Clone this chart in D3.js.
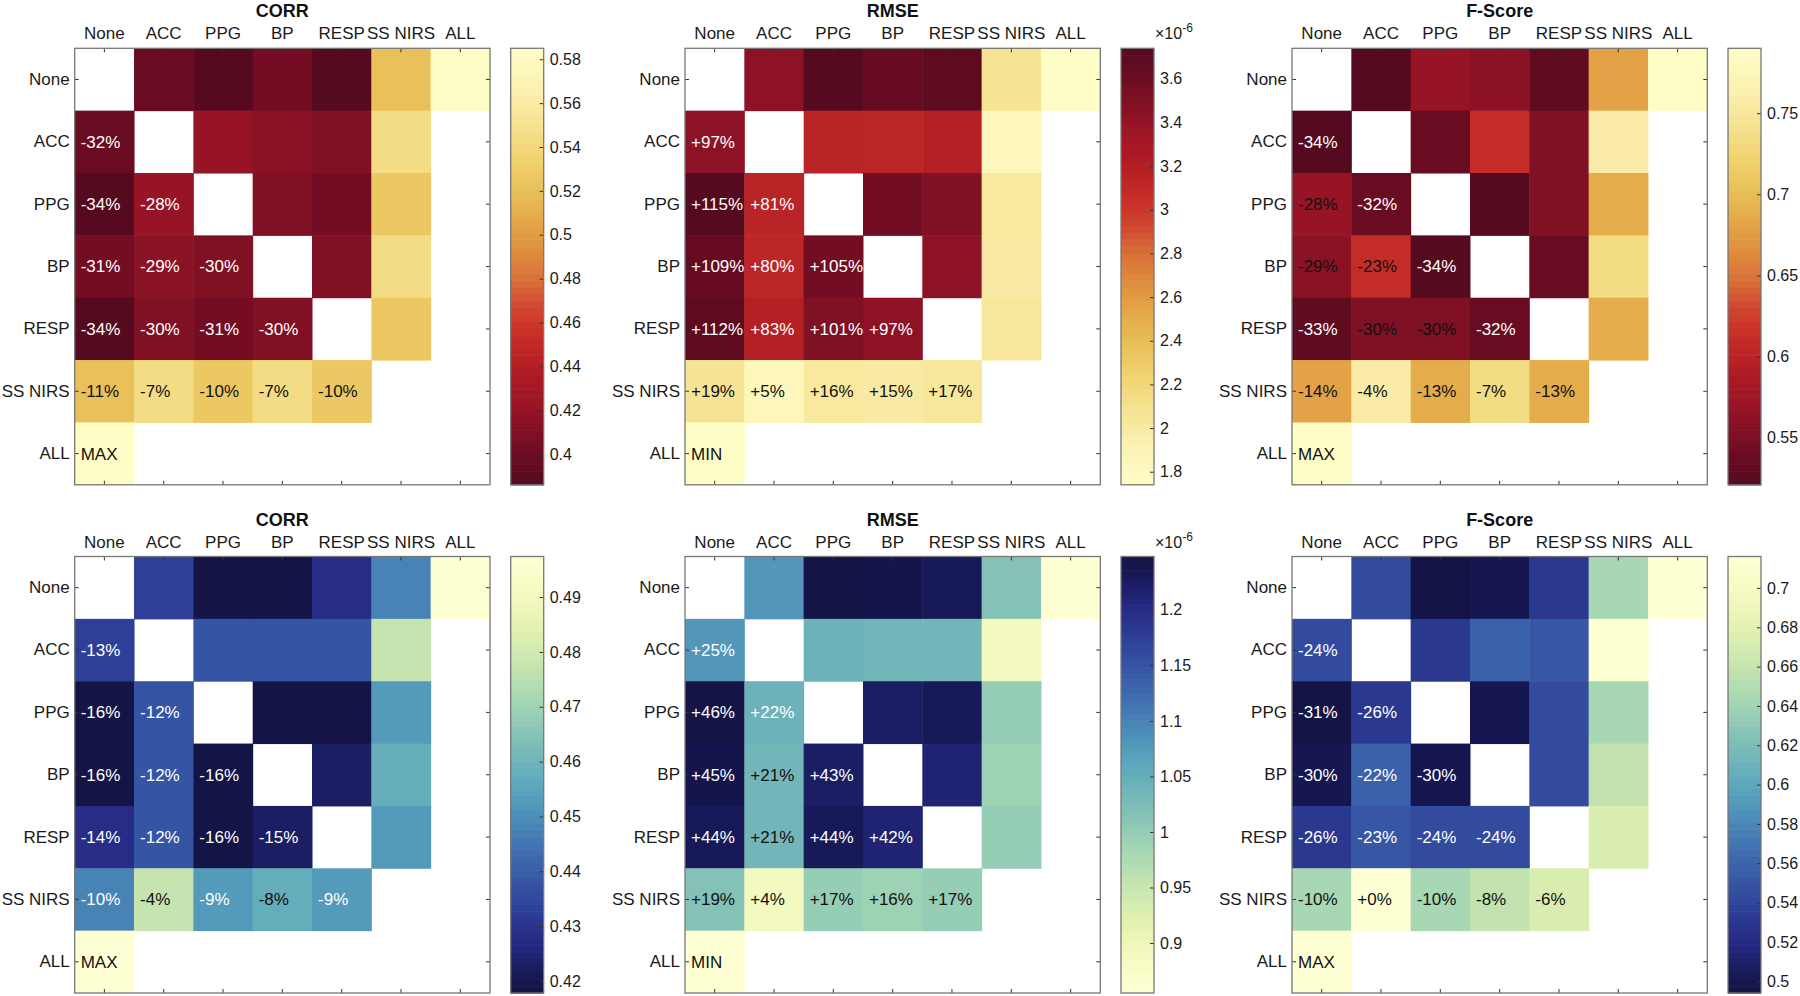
<!DOCTYPE html>
<html>
<head>
<meta charset="utf-8">
<script src="https://cdn.jsdelivr.net/npm/d3@7"></script>
<style>
  body { margin: 0; background: #fff; }
  text { font-family: "Liberation Sans", Arial, Helvetica, sans-serif; }
</style>
</head>
<body>
<svg id="chart" width="1800" height="996"></svg>
<script>
// axis labels (rows and columns are the same)
const labels = ['None', 'ACC', 'PPG', 'BP', 'RESP', 'SS NIRS', 'ALL'];

// Lower triangle, one row per label from ACC down to ALL (ALL only pairs with None).
// The matrix is symmetric, the upper triangle mirrors these values.

// top row, warm colour map
const corrTopVals = [
  [0.398],
  [0.386, 0.421],
  [0.404, 0.415, 0.410],
  [0.386, 0.410, 0.404, 0.410],
  [0.521, 0.544, 0.527, 0.544, 0.527],
  [0.585]
];
const corrTopPct = [
  ['-32%'],
  ['-34%', '-28%'],
  ['-31%', '-29%', '-30%'],
  ['-34%', '-30%', '-31%', '-30%'],
  ['-11%', '-7%', '-10%', '-7%', '-10%'],
  ['MAX']
];
const corrTopTicks = [0.4, 0.42, 0.44, 0.46, 0.48, 0.5, 0.52, 0.54, 0.56, 0.58];

// RMSE values in units of 1e-6
const rmseTopVals = [
  [3.43],
  [3.74, 3.15],
  [3.64, 3.13, 3.57],
  [3.69, 3.18, 3.50, 3.43],
  [2.07, 1.83, 2.02, 2.00, 2.04],
  [1.74]
];
const rmseTopPct = [
  ['+97%'],
  ['+115%', '+81%'],
  ['+109%', '+80%', '+105%'],
  ['+112%', '+83%', '+101%', '+97%'],
  ['+19%', '+5%', '+16%', '+15%', '+17%'],
  ['MIN']
];
const rmseTopTicks = [1.8, 2, 2.2, 2.4, 2.6, 2.8, 3, 3.2, 3.4, 3.6];

const fTopVals = [
  [0.521],
  [0.569, 0.537],
  [0.561, 0.610, 0.521],
  [0.529, 0.553, 0.553, 0.537],
  [0.679, 0.758, 0.687, 0.735, 0.687],
  [0.790]
];
const fTopPct = [
  ['-34%'],
  ['-28%', '-32%'],
  ['-29%', '-23%', '-34%'],
  ['-33%', '-30%', '-30%', '-32%'],
  ['-14%', '-4%', '-13%', '-7%', '-13%'],
  ['MAX']
];
const fTopTicks = [0.55, 0.6, 0.65, 0.7, 0.75];

// bottom row, cool colour map
const corrBotVals = [
  [0.4327],
  [0.4178, 0.4377],
  [0.4178, 0.4377, 0.4178],
  [0.4278, 0.4377, 0.4178, 0.4228],
  [0.4477, 0.4775, 0.4526, 0.4576, 0.4526],
  [0.4974]
];
const corrBotPct = [
  ['-13%'],
  ['-16%', '-12%'],
  ['-16%', '-12%', '-16%'],
  ['-14%', '-12%', '-16%', '-15%'],
  ['-10%', '-4%', '-9%', '-8%', '-9%'],
  ['MAX']
];
const corrBotTicks = [0.42, 0.43, 0.44, 0.45, 0.46, 0.47, 0.48, 0.49];

const rmseBotVals = [
  [1.080],
  [1.248, 1.043],
  [1.240, 1.035, 1.223],
  [1.231, 1.035, 1.231, 1.214],
  [1.017, 0.889, 1.000, 0.992, 1.000],
  [0.855]
];
const rmseBotPct = [
  ['+25%'],
  ['+46%', '+22%'],
  ['+45%', '+21%', '+43%'],
  ['+44%', '+21%', '+44%', '+42%'],
  ['+19%', '+4%', '+17%', '+16%', '+17%'],
  ['MIN']
];
const rmseBotTicks = [0.9, 0.95, 1, 1.05, 1.1, 1.15, 1.2];

const fBotVals = [
  [0.544],
  [0.494, 0.530],
  [0.501, 0.558, 0.501],
  [0.530, 0.551, 0.544, 0.544],
  [0.644, 0.716, 0.644, 0.659, 0.673],
  [0.716]
];
const fBotPct = [
  ['-24%'],
  ['-31%', '-26%'],
  ['-30%', '-22%', '-30%'],
  ['-26%', '-23%', '-24%', '-24%'],
  ['-10%', '+0%', '-10%', '-8%', '-6%'],
  ['MAX']
];
const fBotTicks = [0.5, 0.52, 0.54, 0.56, 0.58, 0.6, 0.62, 0.64, 0.66, 0.68, 0.7];

// colour maps, 0 = dark, 1 = light
const warmPos = [0, 0.07, 0.18, 0.26, 0.35, 0.41, 0.47, 0.56, 0.65, 0.75, 0.90, 1];
const warmCols = ['#560a1f', '#6c0c22', '#981426', '#b01c24', '#c83028', '#d04830',
                  '#d87038', '#e09840', '#e6b850', '#f0d470', '#fbf0b0', '#fffdc6'];
const coolPos = [0, 0.03, 0.117, 0.207, 0.297, 0.387, 0.477, 0.568, 0.658, 0.748, 0.838, 0.93, 1];
const coolCols = ['#141446', '#161650', '#262a84', '#30459c', '#3c64ac', '#4a88b8', '#5ca8bc',
                  '#7cbcb8', '#a0d4b4', '#c4e4b0', '#e4f2b0', '#f8fbc4', '#ffffd4'];

const warm = d3.scaleLinear().domain(warmPos).range(warmCols).interpolate(d3.interpolateRgb).clamp(true);
const cool = d3.scaleLinear().domain(coolPos).range(coolCols).interpolate(d3.interpolateRgb).clamp(true);

const colX = [74.7, 685, 1292];
const rowY = [48.3, 556.5];
const W = 415.3, H = 436.5;
const fontSize = 17;

// flip: lower values are light (RMSE); cut: label is white below this lightness
const panels = [
  { title: 'CORR', vals: corrTopVals, pct: corrTopPct, ticks: corrTopTicks, cmap: warm, flip: false, exp: false, cut: 0.5, x: colX[0], y: rowY[0] },
  { title: 'RMSE', vals: rmseTopVals, pct: rmseTopPct, ticks: rmseTopTicks, cmap: warm, flip: true, exp: true, cut: 0.5, x: colX[1], y: rowY[0] },
  { title: 'F-Score', vals: fTopVals, pct: fTopPct, ticks: fTopTicks, cmap: warm, flip: false, exp: false, cut: 0.09, x: colX[2], y: rowY[0] },
  { title: 'CORR', vals: corrBotVals, pct: corrBotPct, ticks: corrBotTicks, cmap: cool, flip: false, exp: false, cut: 0.47, x: colX[0], y: rowY[1] },
  { title: 'RMSE', vals: rmseBotVals, pct: rmseBotPct, ticks: rmseBotTicks, cmap: cool, flip: true, exp: true, cut: 0.53, x: colX[1], y: rowY[1] },
  { title: 'F-Score', vals: fBotVals, pct: fBotPct, ticks: fBotTicks, cmap: cool, flip: false, exp: false, cut: 0.5, x: colX[2], y: rowY[1] }
];

const svg = d3.select('#chart');
svg.append('rect').attr('width', 1800).attr('height', 996).attr('fill', '#fff');

panels.forEach(p => {
  const g = svg.append('g').attr('transform', `translate(${p.x},${p.y})`);

  const x = d3.scaleBand().domain(labels).range([0, W]);
  const y = d3.scaleBand().domain(labels).range([0, H]);

  // build cells from the lower triangle, mirror to the upper one
  const cells = [];
  p.vals.forEach((row, k) => {
    const r = k + 1;
    row.forEach((v, j) => {
      cells.push({ row: labels[r], col: labels[j], v: v, text: p.pct[k][j] });
      cells.push({ row: labels[j], col: labels[r], v: v, text: null });
    });
  });

  const ext = d3.extent(cells, d => d.v);
  const light = v => {
    const s = (v - ext[0]) / (ext[1] - ext[0]);
    return p.flip ? 1 - s : s;
  };
  const color = v => p.cmap(light(v));

  g.selectAll('rect.cell')
    .data(cells)
    .enter()
    .append('rect')
    .attr('class', 'cell')
    .attr('x', d => x(d.col))
    .attr('y', d => y(d.row))
    .attr('width', x.bandwidth() + 0.5)
    .attr('height', y.bandwidth() + 0.5)
    .attr('fill', d => color(d.v));

  g.selectAll('text.val')
    .data(cells.filter(d => d.text))
    .enter()
    .append('text')
    .attr('class', 'val')
    .attr('x', d => x(d.col) + 6)
    .attr('y', d => y(d.row) + y.bandwidth() / 2)
    .attr('dy', '0.35em')
    .style('font-size', fontSize + 'px')
    .attr('fill', d => light(d.v) < p.cut ? '#ffffff' : '#111111')
    .text(d => d.text);

  // axes with inward ticks on all four sides
  const tickLen = 4;
  const top = g.append('g').call(d3.axisTop(x).tickSize(-tickLen).tickPadding(9));
  const left = g.append('g').call(d3.axisLeft(y).tickSize(-tickLen).tickPadding(5));
  const bottom = g.append('g').attr('transform', `translate(0,${H})`)
    .call(d3.axisBottom(x).tickSize(-tickLen).tickFormat(''));
  const right = g.append('g').attr('transform', `translate(${W},0)`)
    .call(d3.axisRight(y).tickSize(-tickLen).tickFormat(''));
  [top, left, bottom, right].forEach(a => {
    a.select('.domain').remove();
    a.selectAll('line').attr('stroke', '#333').attr('stroke-width', 1);
    a.selectAll('text').attr('fill', '#1a1a1a')
      .style('font-size', fontSize + 'px')
      .style('font-family', '"Liberation Sans", Arial, sans-serif');
  });

  g.append('rect')
    .attr('width', W).attr('height', H)
    .attr('fill', 'none')
    .attr('stroke', '#777')
    .attr('stroke-width', 1.3);

  g.append('text')
    .attr('x', W / 2)
    .attr('y', -31)
    .attr('text-anchor', 'middle')
    .style('font-size', '18px')
    .attr('font-weight', 'bold')
    .attr('fill', '#111')
    .text(p.title);

  // colour bar
  const cbx = W + 20.7, cbw = 33;
  const cb = g.append('g').attr('transform', `translate(${cbx},0)`);
  const cy = d3.scaleLinear().domain(ext).range([H, 0]);
  const nLev = 64;
  const levels = d3.range(nLev).map(i => ext[0] + (ext[1] - ext[0]) * (i + 0.5) / nLev);
  const step = (ext[1] - ext[0]) / nLev;
  cb.selectAll('rect.lev')
    .data(levels)
    .enter()
    .append('rect')
    .attr('class', 'lev')
    .attr('x', 0)
    .attr('width', cbw)
    .attr('y', d => cy(d + step / 2))
    .attr('height', d => cy(d - step / 2) - cy(d + step / 2) + 0.6)
    .attr('fill', d => color(d));

  const cbAxis = cb.append('g').attr('transform', `translate(${cbw},0)`)
    .call(d3.axisRight(cy).tickValues(p.ticks).tickFormat(d3.format('~g')).tickSize(-tickLen).tickPadding(6));
  cbAxis.select('.domain').remove();
  cbAxis.selectAll('line').attr('stroke', '#333');
  cbAxis.selectAll('text').attr('fill', '#1a1a1a')
    .style('font-size', '16px')
    .style('font-family', '"Liberation Sans", Arial, sans-serif');

  cb.append('rect')
    .attr('width', cbw).attr('height', H)
    .attr('fill', 'none')
    .attr('stroke', '#777')
    .attr('stroke-width', 1.3);

  if (p.exp) {
    const t = cb.append('text')
      .attr('x', cbw + 1)
      .attr('y', -9)
      .style('font-size', '16px')
      .attr('fill', '#1a1a1a');
    t.append('tspan').text('\u00d710');
    t.append('tspan').attr('dy', -7).style('font-size', '12px').text('-6');
  }
});
</script>
</body>
</html>
